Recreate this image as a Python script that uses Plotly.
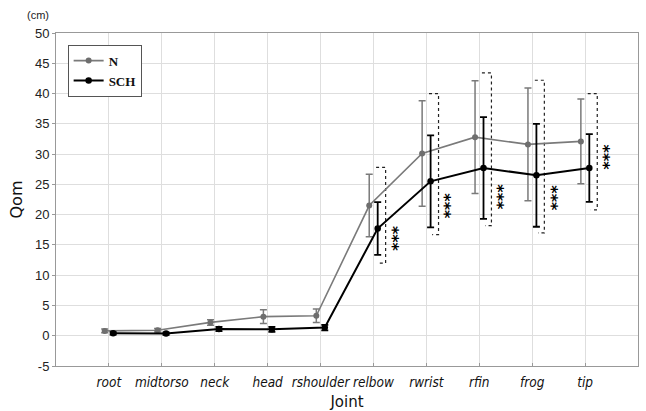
import plotly.graph_objects as go

joints = ['root', 'midtorso', 'neck', 'head', 'rshoulder', 'relbow', 'rwrist', 'rfin', 'frog', 'tip']
n_mean = [0.8, 0.9, 2.2, 3.15, 3.3, 21.5, 30.1, 32.8, 31.6, 32.1]
n_err = [0.3, 0.3, 0.45, 1.15, 1.1, 5.15, 8.7, 9.3, 9.3, 7.0]
sch_mean = [0.4, 0.35, 1.1, 1.05, 1.35, 17.7, 25.5, 27.7, 26.5, 27.7]
sch_err = [0.2, 0.2, 0.35, 0.4, 0.45, 4.35, 7.6, 8.4, 8.5, 5.6]

sig_joints = ['relbow', 'rwrist', 'rfin', 'frog', 'tip']
bracket_top = [27.8, 40.0, 43.4, 42.2, 40.0]
bracket_bottom = [12.0, 16.7, 18.2, 17.0, 20.8]
star_y = [16.0, 21.4, 22.9, 22.75, 29.5]
y_ticks = list(range(-5, 51, 5))
y_tick_text = [str(v) for v in y_ticks]

pos = {j: i + 1 for i, j in enumerate(joints)}
off = 0.08

fig = go.Figure()

# brackets
for j, t, b in zip(sig_joints, bracket_top, bracket_bottom):
    x0 = pos[j] + 0.05
    x1 = pos[j] + 0.23
    fig.add_trace(go.Scatter(
        x=[x0, x1, x1, x0 + 0.06], y=[t, t, b, b], mode='lines',
        line=dict(color='#222', width=1.2, dash='dot'),
        showlegend=False, hoverinfo='skip'))

fig.add_trace(go.Scatter(
    x=[pos[j] - off for j in joints], y=n_mean, name='N',
    mode='lines+markers',
    line=dict(color='#7a7a7a', width=1.6),
    marker=dict(color='#6e6e6e', size=6, symbol='circle'),
    error_y=dict(type='data', array=n_err, visible=True, color='#7a7a7a', thickness=1.5, width=3.5)))

fig.add_trace(go.Scatter(
    x=[pos[j] + off for j in joints], y=sch_mean, name='SCH',
    mode='lines+markers',
    line=dict(color='#000000', width=2),
    marker=dict(color='#000000', size=6.5, symbol='circle'),
    error_y=dict(type='data', array=sch_err, visible=True, color='#000000', thickness=1.8, width=3.5)))

# significance stars
for j, sy in zip(sig_joints, star_y):
    fig.add_annotation(x=pos[j] + 0.35, y=sy, text='***', showarrow=False, textangle=90,
                       font=dict(family='DejaVu Sans', size=16, color='#000', weight='bold'),
                       xref='x', yref='y')

fig.add_annotation(x=(38 - 56) / 582, y=(411 - 45 - 15) / 333, xref='paper', yref='paper',
                   text='(cm)', showarrow=False, xanchor='center', yanchor='middle',
                   font=dict(family='Liberation Sans', size=11, color='#222'))

fig.update_layout(
    width=646, height=411,
    margin=dict(l=56, r=8, t=33, b=45, autoexpand=False),
    plot_bgcolor='white', paper_bgcolor='white',
    showlegend=True,
    legend=dict(x=0.02, y=0.965, xanchor='left', yanchor='top',
                bgcolor='white', bordercolor='#555', borderwidth=1,
                font=dict(family='Liberation Serif', size=13, color='#111', weight='bold'),
                tracegroupgap=2, itemwidth=30),
    xaxis=dict(range=[0, 11], tickvals=[pos[j] for j in joints], ticktext=joints,
               tickangle=0, automargin=False,
               showgrid=True, gridcolor='#dedede', gridwidth=1,
               ticks='inside', ticklen=3, tickcolor='#999',
               showline=True, linecolor='#999', linewidth=1, mirror=True,
               zeroline=False, ticklabelstandoff=4,
               tickfont=dict(family='DejaVu Sans Condensed, DejaVu Sans', size=13.5, color='#111', style='italic'),
               title=dict(text='Joint', font=dict(family='DejaVu Sans', size=15, color='#111'), standoff=9)),
    yaxis=dict(range=[-5, 50], tickvals=y_ticks, ticktext=y_tick_text, automargin=False,
               showgrid=True, gridcolor='#dedede', gridwidth=1,
               ticks='outside', ticklen=3, tickcolor='#999',
               showline=True, linecolor='#999', linewidth=1, mirror=True,
               zeroline=False,
               tickfont=dict(family='Liberation Sans', size=13, color='#222'),
               title=dict(text='Qom', font=dict(family='DejaVu Sans', size=16, color='#111'), standoff=8)),
)

fig.write_html('out.html')
